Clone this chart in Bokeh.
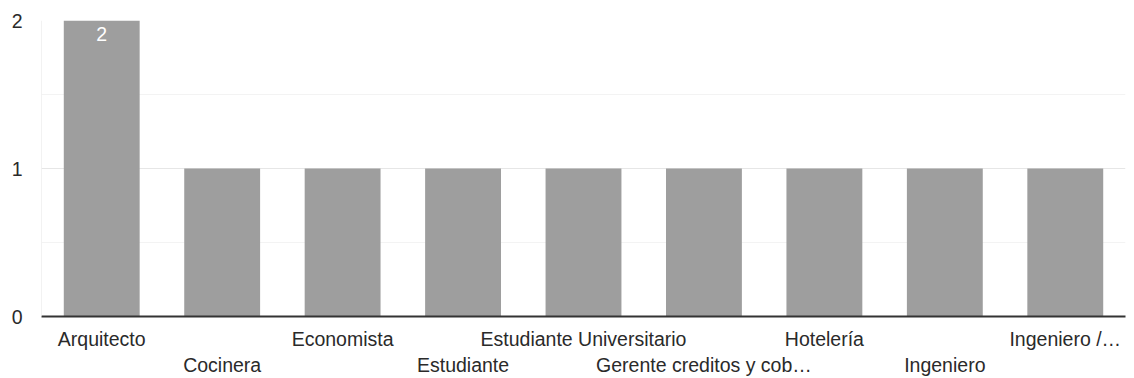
from bokeh.plotting import figure
from bokeh.models import Range1d, FixedTicker, LinearAxis, Span
from bokeh.core.properties import value
from bokeh.embed import file_html
from bokeh.resources import INLINE

categories = ["Arquitecto", "Cocinera", "Economista", "Estudiante",
              "Estudiante Universitario", "Gerente creditos y cob\u2026",
              "Hotelería", "Ingeniero", "Ingeniero /\u2026"]
counts = [2, 1, 1, 1, 1, 1, 1, 1, 1]
bar_labels = ["2", "", "", "", "", "", "", "", ""]
y_ticks = [0, 1, 2]
y_minor = [0.5, 1.5]

FONT = "Liberation Sans"
FS = "19.5px"
TXT = "#2a2a2a"
xs = list(range(len(categories)))

p = figure(width=1134, height=378, output_backend="svg", toolbar_location=None,
           x_range=Range1d(-0.5, len(categories) - 0.5), y_range=Range1d(0, 2),
           min_border_left=41, min_border_right=9, min_border_top=20, min_border_bottom=61,
           x_axis_location=None, y_axis_location=None)
p.outline_line_color = None
p.background_fill_color = "white"
p.border_fill_color = "white"

# y axis
yaxis = LinearAxis(ticker=FixedTicker(ticks=y_ticks, minor_ticks=y_minor))
yaxis.axis_line_color = None
yaxis.major_tick_line_color = None
yaxis.minor_tick_line_color = None
yaxis.major_tick_out = 0
yaxis.minor_tick_out = 0
yaxis.major_label_text_font = FONT
yaxis.major_label_text_font_size = FS
yaxis.major_label_text_color = TXT
yaxis.major_label_standoff = 19
p.add_layout(yaxis, "left")

# x axis with staggered labels
overrides = {}
for i, c in enumerate(categories):
    overrides[i] = c if i % 2 == 0 else "\n" + c
xaxis = LinearAxis(ticker=FixedTicker(ticks=xs))
xaxis.major_label_overrides = overrides
xaxis.axis_line_color = "#333333"
xaxis.axis_line_width = 2
xaxis.major_tick_line_color = None
xaxis.minor_tick_line_color = None
xaxis.major_tick_out = 0
xaxis.minor_tick_out = 0
xaxis.major_label_text_font = FONT
xaxis.major_label_text_font_size = FS
xaxis.major_label_text_color = TXT
xaxis.major_label_standoff = 11
p.add_layout(xaxis, "below")

p.ygrid.ticker = yaxis.ticker
p.ygrid.grid_line_color = "#e6e6e6"
p.ygrid.minor_grid_line_color = "#f3f3f3"
p.xgrid.grid_line_color = None

p.add_layout(Span(location=-0.5, dimension="height", line_color="#e6e6e6", line_width=1))

p.vbar(x=xs, top=counts, width=0.63, fill_color="#9e9e9e", line_color=None)
p.text(x=xs, y=counts, text=bar_labels, text_color="white",
       text_font=value(FONT), text_font_size=FS,
       text_align="center", text_baseline="top", y_offset=6)

open("out.html", "w").write(file_html(p, INLINE))
